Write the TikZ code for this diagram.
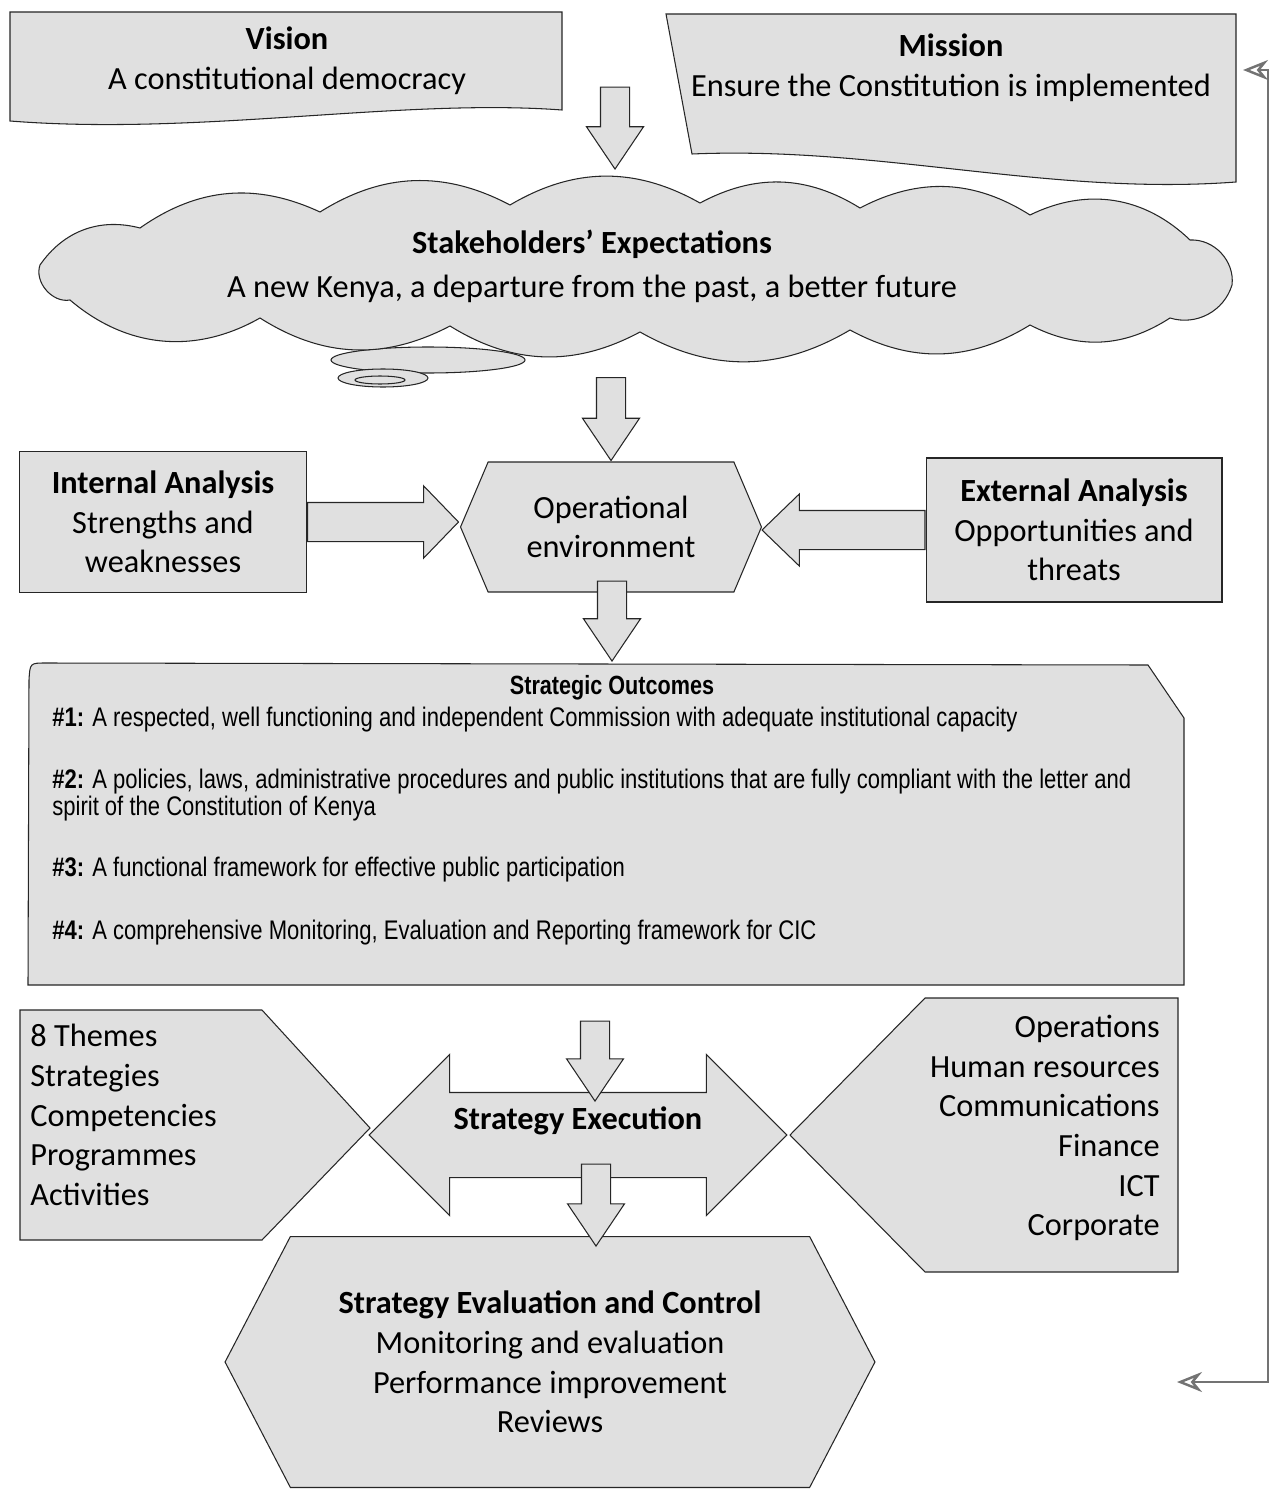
\documentclass[tikz,border=0pt]{standalone}
\usepackage{fontspec}
\setmainfont{Carlito}
\newfontfamily\narrowfont[FakeStretch=0.82]{Liberation Sans}
\usetikzlibrary{positioning, shapes.arrows, shapes.symbols, arrows.meta}

\tikzset{
  panel/.style={draw=black!85, fill=black!12, line width=0.6pt},
  big/.style={font=\fontsize{18.4}{22.6}\selectfont, inner sep=0pt},
  downarrow/.style={panel, single arrow, rotate=-90, anchor=tip, inner xsep=0pt, inner ysep=0.28cm,
    single arrow head extend=0.28cm, single arrow tip angle=68},
  sidearrow/.style={panel, single arrow, anchor=tail, inner xsep=0pt, inner ysep=0.38cm,
    single arrow head extend=0.33cm},
  outcome/.style={font=\narrowfont\fontsize{15.3}{13.5}\selectfont, anchor=west, inner sep=0pt, align=left},
  feedback/.style={draw=black!55, line width=1.4pt,
    {Stealth[open,length=0.5cm,width=0.4cm]}-{Stealth[open,length=0.5cm,width=0.4cm]}},
}

\begin{document}
\begin{tikzpicture}[x=0.02cm, y=-0.02cm]
  \useasboundingbox (0,0) rectangle (1284,1490);

  % Vision and mission
  \draw[panel] (10,12) -- (562,12) -- (562,110) .. controls (400,98) and (200,136) .. (10,121) -- cycle;
  \node[big, align=center] (vision) at (287,61) {\textbf{Vision}\\A constitutional democracy};
  \draw[panel] (666,14) -- (1236,14) -- (1236,182) .. controls (1050,196) and (880,146) .. (692,154) -- cycle;
  \node[big, align=center] (mission) at (951,68) {\textbf{Mission}\\Ensure the Constitution is implemented};

  % Stakeholders
  \draw[panel] (428,360) ellipse [x radius=97, y radius=13];
  \draw[panel] (383,378) ellipse [x radius=45, y radius=9];
  \draw[panel] (380,380) ellipse [x radius=25, y radius=4];
  \draw[panel] (40,265) to[bend left=35] (140,228) to[bend left=30] (320,212) to[bend left=30] (510,205)
    to[bend left=30] (700,203) to[bend left=30] (860,208) to[bend left=30] (1030,215)
    to[bend left=35] (1190,240) to[bend left=50] (1232,285) to[bend left=45] (1170,318)
    to[bend left=30] (1030,325) to[bend left=30] (850,330) to[bend left=30] (640,332)
    to[bend left=30] (450,326) to[bend left=30] (260,318) to[bend left=35] (70,300)
    to[bend left=60] cycle;
  \node[big, align=center] (stake) at (592,266)
    {\textbf{Stakeholders’ Expectations}\\[2.6pt]A new Kenya, a departure from the past, a better future};

  % Analysis
  \node[panel, big, align=center, minimum width=5.74cm, minimum height=2.82cm] (internal) at (163,522)
    {\textbf{Internal Analysis}\\Strengths and\\weaknesses};
  \node[panel, big, align=center, signal, signal to=west and east, signal pointer angle=134,
        minimum width=6.02cm, minimum height=2.6cm] (operational) at (611,527) {Operational\\environment};
  \node[panel, big, align=center, minimum width=5.92cm, minimum height=2.88cm] (external) at (1074,530)
    {\textbf{External Analysis}\\Opportunities and\\threats};
  \node[sidearrow, minimum height=3.02cm, single arrow tip angle=92] (inarrow) at (internal.east) {};
  \node[sidearrow, rotate=180, minimum height=3.26cm, single arrow tip angle=88] (exarrow) at (external.west) {};

  % Outcomes
  \draw[panel] (28,985) -- (29,680) .. controls (30,663) .. (46,663) -- (1148,665) -- (1184,718) -- (1184,985) -- cycle;
  \node[font=\narrowfont\bfseries\fontsize{15}{14}\selectfont, inner sep=0pt] (outtitle) at (612,688) {Strategic Outcomes};
  \node[outcome] (out1) at (52,720) {\textbf{\#1:} A respected, well functioning and independent Commission with adequate institutional capacity};
  \node[outcome] (out2) at (52,795) {\textbf{\#2:} A policies, laws, administrative procedures and public institutions that are fully compliant with the letter and\\spirit of the Constitution of Kenya};
  \node[outcome] (out3) at (52,870) {\textbf{\#3:} A functional framework for effective public participation};
  \node[outcome] (out4) at (52,933) {\textbf{\#4:} A comprehensive Monitoring, Evaluation and Reporting framework for CIC};

  % Execution
  \draw[panel] (20,1010) -- (262,1010) -- (370,1128) -- (262,1240) -- (20,1240) -- cycle;
  \node[big, align=left, anchor=west] (themes) at (30,1115) {8 Themes\\Strategies\\Competencies\\Programmes\\Activities};
  \draw[panel] (1178,998) -- (925,998) -- (790,1135) -- (925,1272) -- (1178,1272) -- cycle;
  \node[big, align=right, anchor=east] (support) at (1160,1128) {Operations\\Human resources\\Communications\\Finance\\ICT\\Corporate};
  \node[panel, double arrow, minimum height=8.36cm, inner xsep=0pt, inner ysep=0.84cm, double arrow head extend=0.76cm,
        double arrow tip angle=90] (execarrow) at (578,1135) {};
  \node[big] (exec) at (578,1121) {\textbf{Strategy Execution}};

  % Evaluation
  \node[panel, big, align=center, signal, signal to=west and east, signal pointer angle=125,
        minimum width=13cm, minimum height=5.02cm] (evaluation) at (550,1362)
    {\textbf{Strategy Evaluation and Control}\\Monitoring and evaluation\\Performance improvement\\Reviews};

  % Down arrows
  \node[downarrow, minimum height=1.64cm] (arr1) at (615,170) {};
  \node[downarrow, minimum height=1.66cm] (arr2) at (operational.north) {};
  \node[downarrow, minimum height=1.6cm] (arr3) at (612,662) {};
  \node[downarrow, minimum height=1.6cm] (arr4) at (595,1102) {};
  \node[downarrow, minimum height=1.64cm] (arr5) at (596,1247) {};

  % Feedback loop
  \coordinate (fbtop) at (1243,70);
  \coordinate (fbbot) at (1177,1382);
  \draw[feedback] (fbtop) -- (1268,70) |- (fbbot);
\end{tikzpicture}
\end{document}
